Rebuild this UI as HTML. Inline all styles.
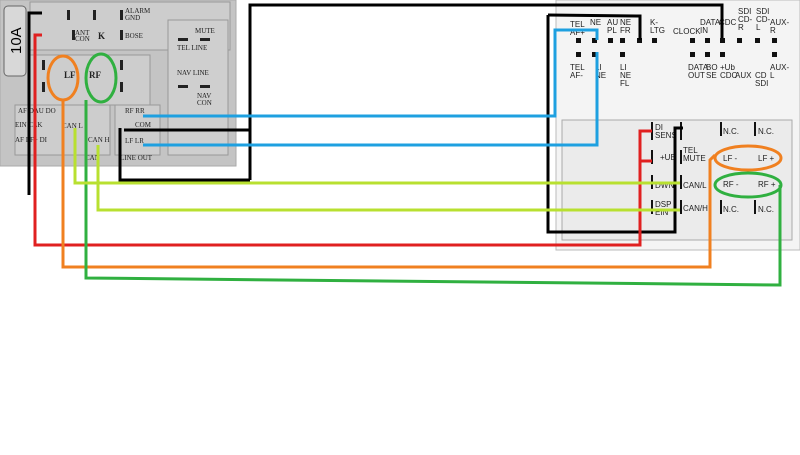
<!DOCTYPE html>
<html><head><style>
body{margin:0;width:800px;height:450px;background:#fff;overflow:hidden;font-family:"Liberation Sans",sans-serif}
</style></head><body>
<svg width="800" height="450" xmlns="http://www.w3.org/2000/svg" font-family="Liberation Serif, serif">
<!-- left connector -->
<rect x="0" y="0" width="236" height="166" fill="#c4c4c4" stroke="#aaa"/>
<rect x="30" y="2" width="200" height="48" fill="#cdcdcd" stroke="#999"/>
<rect x="4" y="6" width="22" height="70" rx="4" fill="#d8d8d8" stroke="#666"/>
<text x="21" y="54" font-size="15" transform="rotate(-90 21 54)" font-family="Liberation Sans">10A</text>
<rect x="30" y="55" width="120" height="50" fill="#cdcdcd" stroke="#999"/>
<rect x="168" y="20" width="60" height="135" fill="#cfcfcf" stroke="#999"/>
<rect x="15" y="105" width="95" height="50" fill="#cdcdcd" stroke="#999"/>
<rect x="115" y="105" width="45" height="50" fill="#cdcdcd" stroke="#999"/>
<g font-size="7" fill="#222">
<text x="125" y="13">ALARM</text><text x="125" y="20">GND</text>
<text x="75" y="35">ANT</text><text x="75" y="41">CON</text><text x="98" y="39" font-size="9" font-weight="bold">K</text>
<text x="125" y="38">BOSE</text>
<text x="195" y="33">MUTE</text><text x="177" y="50">TEL LINE</text>
<text x="177" y="75">NAV LINE</text><text x="197" y="98">NAV</text><text x="197" y="105">CON</text>
<text x="64" y="78" font-size="9" font-weight="bold">LF</text><text x="89" y="78" font-size="9" font-weight="bold">RF</text>
<text x="18" y="113">AF DAU DO</text><text x="15" y="127">EIN CLK</text><text x="62" y="128">CAN L</text>
<text x="15" y="142">AF LF+ DI</text><text x="88" y="142">CAN H</text>
<text x="125" y="113">RF RR</text><text x="135" y="127">COM</text><text x="125" y="143">LF LR</text>
<text x="120" y="160">LINE OUT</text><text x="85" y="160">CAN</text>
</g>
<g fill="#222">
<rect x="67" y="10" width="3" height="10"/><rect x="93" y="10" width="3" height="10"/><rect x="120" y="10" width="3" height="10"/>
<rect x="72" y="30" width="3" height="10"/><rect x="120" y="30" width="3" height="10"/>
<rect x="42" y="60" width="3" height="10"/><rect x="42" y="82" width="3" height="10"/>
<rect x="120" y="60" width="3" height="10"/><rect x="120" y="82" width="3" height="10"/>
<rect x="178" y="38" width="10" height="3"/><rect x="200" y="38" width="10" height="3"/>
<rect x="178" y="85" width="10" height="3"/><rect x="200" y="85" width="10" height="3"/>
</g>
<!-- right connector -->
<rect x="556" y="0" width="244" height="250" fill="#f4f4f4" stroke="#bbb"/>
<rect x="562" y="120" width="230" height="120" fill="#ebebeb" stroke="#aaa"/>
<g font-family="Liberation Sans,sans-serif" font-size="8" fill="#222">
<text x="570" y="27">TEL</text><text x="570" y="35">AF+</text>
<text x="590" y="25">NE</text><text x="607" y="25">AU</text><text x="607" y="33">PL</text>
<text x="620" y="25">NE</text><text x="620" y="33">FR</text><text x="650" y="25">K-</text><text x="650" y="33">LTG</text>
<text x="673" y="34">CLOCK</text><text x="700" y="25">DATA</text><text x="700" y="33">IN</text><text x="719" y="25">CDC</text>
<text x="738" y="14">SDI</text><text x="738" y="22">CD-</text><text x="738" y="30">R</text>
<text x="756" y="14">SDI</text><text x="756" y="22">CD-</text><text x="756" y="30">L</text>
<text x="770" y="25">AUX-</text><text x="770" y="33">R</text>
<text x="570" y="70">TEL</text><text x="570" y="78">AF-</text><text x="595" y="70">LI</text><text x="595" y="78">NE</text>
<text x="620" y="70">LI</text><text x="620" y="78">NE</text><text x="620" y="86">FL</text>
<text x="688" y="70">DATA</text><text x="688" y="78">OUT</text><text x="706" y="70">BO</text><text x="706" y="78">SE</text>
<text x="720" y="70">+Ub</text><text x="720" y="78">CDC</text><text x="735" y="78">AUX</text><text x="755" y="78">CD</text><text x="755" y="86">SDI</text>
<text x="770" y="70">AUX-</text><text x="770" y="78">L</text>
<text x="655" y="130">DI</text><text x="655" y="138">SENS</text><text x="660" y="160">+UB</text>
<text x="655" y="188">DWN</text><text x="655" y="207">DSP</text><text x="655" y="215">EIN</text>
<text x="683" y="153">TEL</text><text x="683" y="161">MUTE</text><text x="683" y="188">CAN/L</text><text x="683" y="211">CAN/H</text>
<text x="723" y="134">N.C.</text><text x="758" y="134">N.C.</text><text x="723" y="161">LF -</text><text x="758" y="161">LF +</text>
<text x="723" y="187">RF -</text><text x="758" y="187">RF +</text><text x="723" y="212">N.C.</text><text x="758" y="212">N.C.</text>
</g>
<g fill="#111">
<rect x="576" y="38" width="5" height="5"/><rect x="592" y="38" width="5" height="5"/><rect x="608" y="38" width="5" height="5"/><rect x="620" y="38" width="5" height="5"/><rect x="637" y="38" width="5" height="5"/><rect x="652" y="38" width="5" height="5"/>
<rect x="690" y="38" width="5" height="5"/><rect x="705" y="38" width="5" height="5"/><rect x="720" y="38" width="5" height="5"/><rect x="737" y="38" width="5" height="5"/><rect x="755" y="38" width="5" height="5"/><rect x="772" y="38" width="5" height="5"/>
<rect x="576" y="52" width="5" height="5"/><rect x="592" y="52" width="5" height="5"/><rect x="620" y="52" width="5" height="5"/>
<rect x="690" y="52" width="5" height="5"/><rect x="705" y="52" width="5" height="5"/><rect x="720" y="52" width="5" height="5"/><rect x="772" y="52" width="5" height="5"/>
<rect x="651" y="122" width="2" height="18"/><rect x="651" y="150" width="2" height="14"/><rect x="651" y="175" width="2" height="14"/><rect x="651" y="200" width="2" height="14"/>
<rect x="680" y="122" width="2" height="18"/><rect x="680" y="150" width="2" height="14"/><rect x="680" y="175" width="2" height="14"/><rect x="680" y="200" width="2" height="14"/>
<rect x="720" y="122" width="2" height="14"/><rect x="754" y="122" width="2" height="14"/><rect x="720" y="200" width="2" height="14"/><rect x="754" y="200" width="2" height="14"/>
</g>
<!-- wires -->
<g fill="none" stroke-width="3">
<polyline stroke="#000" points="42,13 29,13 29,195"/>
<polyline stroke="#000" points="250,180 250,5 722,5 722,38"/>
<polyline stroke="#000" points="124,130 250,130"/>
<polyline stroke="#000" points="120,128 120,180 250,180"/>
<polyline stroke="#000" points="548,15 640,16 640,40"/>
<polyline stroke="#000" points="548,15 548,232 675,232 675,128 683,128"/>
<polyline stroke="#e02020" points="42,35 35,35 35,245 640,245 640,131 652,131"/>
<polyline stroke="#e02020" points="640,161 652,161"/>
<polyline stroke="#1ea0e0" points="143,116 555,116 555,30 597,30 597,40"/>
<polyline stroke="#1ea0e0" points="143,145 597,145 597,52"/>
<polyline stroke="#f08020" points="63,100 63,267 710,267 710,160 715,155"/>
<polyline stroke="#30b040" points="86,100 86,278 780,285 780,185"/>
<polyline stroke="#b8e030" points="75,128 75,183 680,183"/>
<polyline stroke="#b8e030" points="98,145 98,210 680,210"/>
<ellipse cx="63" cy="78" rx="15" ry="22" stroke="#f08020"/>
<ellipse cx="101" cy="78" rx="15" ry="24" stroke="#30b040"/>
<ellipse cx="748" cy="158" rx="33" ry="12" stroke="#f08020"/>
<ellipse cx="748" cy="185" rx="33" ry="12" stroke="#30b040"/>
</g>
</svg>
</body></html>
